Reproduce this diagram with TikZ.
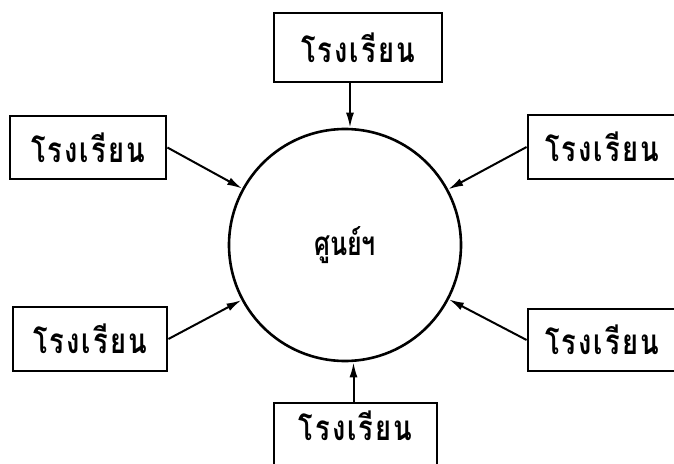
\documentclass[tikz,border=0pt]{standalone}
\usepackage{fontspec}
\newfontfamily\thaifont[Script=Thai,LetterSpace=6,FakeStretch=0.78]{Loma}
\newfontfamily\thaiplain[Script=Thai,FakeStretch=0.76]{Loma}
\usetikzlibrary{arrows.meta}
\begin{document}
\begin{tikzpicture}[x=1pt,y=-1pt,
  school/.style={draw,line width=2.8pt,rectangle,inner sep=0pt,font=\thaifont\bfseries\fontsize{35}{35}\selectfont},
  hub/.style={draw,line width=2.6pt,circle,inner sep=0pt,minimum size=232pt,font=\thaiplain\bfseries\fontsize{33}{33}\selectfont},
  arr/.style={line width=2pt,-{Latex[length=15pt,width=8pt]}}]
\useasboundingbox (0,0) rectangle (674,463);
\fill[white] (0,0) rectangle (674,463);
\node[hub] (c) at (345,245) {ศูนย์ฯ};
\node[school,minimum width=168pt,minimum height=69pt] (t) at (358,47.5) {โรงเรียน};
\node[school,minimum width=156pt,minimum height=63pt] (lt) at (88,147.5) {โรงเรียน};
\node[school,minimum width=148pt,minimum height=64pt] (rt) at (602,147) {โรงเรียน};
\node[school,minimum width=154pt,minimum height=64pt] (lb) at (90,339) {โรงเรียน};
\node[school,minimum width=148pt,minimum height=62pt] (rb) at (602,340) {โรงเรียน};
\node[school,minimum width=163pt,minimum height=64pt,text depth=18pt] (b) at (355.5,435) {โรงเรียน};
\draw[arr] ([xshift=-8pt]t.south) -- ([xshift=-8pt]t.south |- c.north);
\draw[arr] ([xshift=-2pt]b.north) -- ([xshift=-2pt]b.north |- c.south);
\draw[arr] (lt.east) -- (c);
\draw[arr] (rt.west) -- (c);
\draw[arr] (lb.east) -- (c);
\draw[arr] (rb.west) -- (c);
\end{tikzpicture}
\end{document}
